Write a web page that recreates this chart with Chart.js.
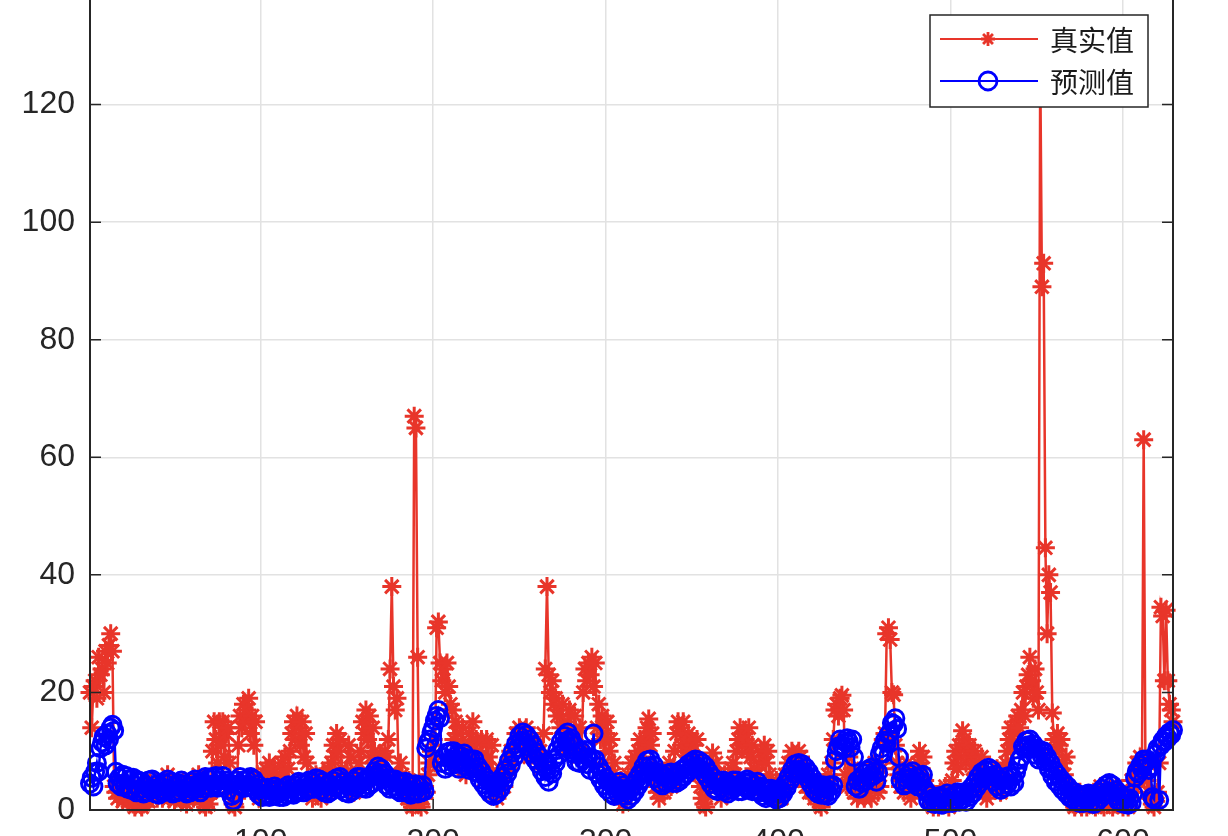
<!DOCTYPE html>
<html>
<head>
<meta charset="utf-8">
<script src="https://cdn.jsdelivr.net/npm/chart.js@4/dist/chart.umd.min.js"></script>
<style>
    html, body { margin: 0; padding: 0; background: #fff; overflow: hidden; width: 1228px; height: 836px; }
    /* el recorte: el área de trazado empieza por encima del borde superior */
    #wrap { position: absolute; left: 0; top: -60px; width: 1228px; height: 960px; }
</style>
</head>
<body>
<div id="wrap"><canvas id="chart"></canvas></div>
<script>
// Ejes
const xMin = 1, xMax = 629;
const xTicks = [100, 200, 300, 400, 500, 600];
const yTicks = [0, 20, 40, 60, 80, 100, 120, 140];

// Leyenda
const seriesNames = ['真实值', '预测值'];

// Serie real (muestras 1..629)
const trueValues = [
    20, 14, 21, 22, 19, 26, 23, 24, 20, 27,
    25, 28, 30, 27, 4, 3, 2, 4, 2.5, 1.5,
    2, 3, 1.5, 4, 2, 1, 0.5, 2, 3, 1,
    0.5, 1, 2, 3, 1.5, 4, 2, 3, 5, 2,
    3, 4, 2, 5, 3, 6, 2, 4, 3, 1.5,
    2, 3, 4, 2, 5, 3, 1, 2, 4, 3,
    2, 5, 3, 6, 2, 4, 1, 0.5, 2, 1,
    3, 10, 15, 12, 8, 15, 11, 15, 9, 13,
    14, 8, 3, 1, 0.5, 2, 11, 16, 14, 18,
    15, 17, 19, 13, 16, 11, 15, 6, 2, 4,
    3, 5, 7, 4, 8, 6, 3, 7, 5, 4,
    6, 8, 5, 9, 4, 7, 10, 13, 15, 12,
    16, 14, 11, 15, 9, 13, 8, 5, 3, 2,
    4, 6, 3, 5, 2, 6, 4, 3, 7, 5,
    8, 11, 9, 13, 10, 12, 7, 5, 4, 6,
    11, 9, 6, 3, 5, 4, 8, 10, 15, 13,
    17, 12, 16, 9, 14, 10, 8, 5, 9, 7,
    6, 10, 9, 12, 24, 38, 21, 17, 19, 5,
    8, 6, 4, 3, 2, 5, 1, 0.5, 67, 65,
    26, 1, 0.5, 2, 4, 3, 6, 8, 10, 12,
    8, 31, 32, 25, 22, 24, 20, 25, 21, 18,
    17, 12, 15, 13, 8, 10, 14, 11, 6, 9,
    13, 11, 15, 9, 12, 7, 10, 12, 5, 8,
    12, 9, 6, 11, 4, 3, 2, 5, 7, 6,
    4, 6, 8, 7, 10, 9, 11, 13, 12, 14,
    13, 12, 10, 14, 11, 9, 12, 10, 11, 9,
    8, 10, 7, 13, 24, 38, 23, 20, 22, 18,
    19, 16, 17, 14, 18, 12, 10, 15, 17, 13,
    12, 16, 11, 9, 14, 10, 20, 24, 22, 25,
    23, 26, 21, 25, 14, 18, 12, 16, 8, 13,
    15, 10, 12, 6, 8, 4, 3, 2, 5, 1,
    4, 2, 6, 3, 8, 5, 9, 7, 10, 12,
    9, 11, 12, 14, 15.5, 11, 13, 6, 4, 3,
    2, 4, 6, 3, 5, 7, 8, 4, 6, 10,
    13, 15, 14, 11, 15, 12, 10, 13, 9, 12,
    11, 8, 12, 6, 4, 2, 1, 0.5, 3, 5,
    7, 9.7, 6, 8, 4, 5, 2, 3, 6, 4,
    3, 5, 7, 8, 6, 10, 12, 14, 11, 13,
    12, 10, 14, 9, 11, 7, 4, 6, 8, 10,
    9, 11, 8, 10, 6, 4, 2, 3, 5, 4,
    3, 2, 4, 6, 5, 8, 7, 10, 9, 6,
    8, 10, 9, 7, 5, 4, 6, 3, 5, 4,
    2, 3, 5, 1, 0.5, 2, 4, 3, 6, 5,
    8, 12, 17, 18, 16, 19, 19.5, 17, 6, 4,
    9, 5, 7, 3, 6, 2, 4, 5, 3, 2,
    3, 5, 4, 2, 6, 8, 5, 3, 4, 7,
    12, 13, 30, 31, 29, 20, 19.6, 11, 8, 6,
    4, 5, 3, 6, 8, 4, 2, 5, 3, 6,
    8, 10, 7, 9, 5, 4, 3, 2, 1, 0.5,
    1, 2, 0.5, 3, 1.5, 2, 4, 1, 0.5, 2,
    5, 8, 10, 7, 11, 9, 13.5, 12, 8, 10,
    11, 9, 7, 10, 8, 5, 6, 9, 3, 4,
    2, 4, 3, 5, 6, 4, 7, 5, 3, 6,
    5, 8, 10, 12, 14, 11, 13, 15, 16, 14,
    17, 20, 16, 21, 23, 26, 22, 19, 24, 20,
    17, 128, 89, 93, 44.6, 30, 40, 37, 16.5, 12,
    10, 13, 11, 12, 8, 6, 9, 4, 3, 2,
    1, 0.5, 2, 1.5, 3, 0.5, 1, 2, 0.5, 1,
    2, 1, 3, 0.5, 1.5, 2, 4, 1, 0.5, 2,
    1, 3, 2, 0.5, 1, 4, 2, 1, 3, 0.5,
    1, 2, 0.5, 3, 5, 4, 6, 8, 5, 9,
    7, 63, 8, 5, 3, 2, 1, 0.5, 1.5, 3,
    8, 34.5, 33, 22, 34, 22, 18, 17, 15
];

// Serie predicha
const predValues = [
    4.5, 5.5, 4, 6.5, 8, 6.5, 10.5, 11.5, 12.5, 11,
    13, 12, 14, 14.5, 13.5, 6.5, 4.5, 5.5, 4, 6,
    4.2, 5.8, 3.6, 5.2, 3.4, 5.5, 4.2, 3, 5, 3.6,
    4.8, 2.8, 4.2, 3, 5, 3.4, 5.2, 3.6, 2.8, 4.4,
    2.6, 4, 3, 4.6, 3.2, 5.2, 3.6, 4.8, 2.8, 4,
    3, 4.6, 3.2, 5, 3.6, 4.4, 2.8, 4, 3, 4.8,
    3.4, 5.2, 3.6, 4.6, 3, 4.8, 3.6, 5.6, 4.2, 5.4,
    3.8, 5.6, 4.4, 5.8, 3.8, 5, 4, 5.8, 4.2, 5,
    3.4, 4.6, 2.4, 1.6, 2.8, 5, 4.2, 5.6, 4, 5,
    3.8, 5.2, 4, 5.6, 4, 5.2, 3.4, 4.4, 2.6, 3.6,
    2.2, 3.6, 2.6, 3.8, 2.2, 3.4, 2.4, 4, 2.6, 3.6,
    2.2, 3.2, 2.2, 3.8, 2.6, 4.2, 2.8, 3.8, 2.6, 4.2,
    3, 4.8, 3.4, 4.6, 3, 4.4, 3.4, 5, 3.6, 4.8,
    3.6, 5.4, 4, 5.2, 3.4, 4.8, 3, 4.2, 2.8, 4.4,
    3.2, 5, 3.8, 5.4, 4.2, 5.6, 3.6, 4.8, 3, 4.2,
    2.8, 4.4, 3.2, 5, 3.8, 5.6, 4.2, 5.6, 3.8, 5,
    3.6, 5.4, 4.2, 5.8, 4.6, 6.6, 5.8, 7.4, 6.2, 7,
    5.2, 6.2, 4.2, 5.4, 3.6, 5.2, 4, 5.2, 3.4, 4.6,
    3, 4.6, 3.4, 4.8, 3, 4.2, 2.6, 4.2, 3, 4.4,
    2.8, 4, 3, 4.2, 3.2, 10.5, 11.5, 12, 13.2, 14,
    15.2, 16, 17, 15.6, 8, 9, 7, 9.8, 7.6, 10,
    8.6, 10, 7.8, 9.4, 7, 9.2, 8, 9.6, 7.4, 8.8,
    6.8, 8.6, 7.2, 8.6, 6.4, 7.4, 5.2, 6.6, 4.4, 5.6,
    3.6, 5, 2.8, 4.4, 2.4, 4, 2.8, 4.8, 3.6, 5.6,
    4.8, 6.8, 6.2, 8.4, 7.6, 9.8, 9, 11.2, 10.6, 12.6,
    11.8, 13.2, 11.6, 12.8, 10.8, 12, 9.6, 11, 8.6, 9.8,
    7.8, 9, 6.6, 8, 5.6, 6.8, 4.8, 6.8, 6.2, 8.6,
    8, 10.2, 9.4, 11.6, 10.8, 12.6, 11.6, 13.2, 11.8, 12.2,
    9.6, 11, 8.2, 9.6, 8, 10, 8.6, 10.2, 7.8, 9,
    6.8, 8.8, 13, 8.6, 6.2, 7.4, 5.2, 6.4, 4.2, 5.4,
    3.4, 4.8, 2.8, 4.2, 2.4, 4, 2.8, 4.8, 3, 4.2,
    2.4, 3.6, 1.8, 3.4, 2.4, 4.2, 3.2, 5.2, 4.2, 6.2,
    5.2, 7.4, 6.6, 8.4, 7.4, 8.6, 6.6, 7.6, 5.4, 6.4,
    4.6, 6, 4.2, 5.8, 4.6, 6.2, 5, 6.4, 4.6, 5.8,
    4.6, 6.2, 5, 6.8, 5.6, 7.2, 6.2, 7.8, 6.8, 8.2,
    7.2, 8.6, 7.4, 8.4, 7, 8, 6.2, 7.4, 5.4, 6.4,
    4.4, 5.6, 3.6, 4.8, 3.2, 4.8, 3.8, 5, 3.2, 4.4,
    2.8, 4.4, 3.4, 5, 3.8, 5, 3.2, 4.4, 3.2, 4.8,
    3.8, 5.2, 3.6, 4.8, 3.2, 4.2, 3.2, 4.8, 3, 4,
    2.4, 3.6, 2, 3.6, 2.6, 3.6, 2.2, 3.2, 1.8, 2.8,
    2, 3.4, 2.8, 4.4, 3.8, 5.6, 5, 6.8, 6.2, 7.8,
    6.8, 8, 6.4, 7.8, 6.4, 7.2, 5.4, 6.4, 4.4, 5.4,
    3.4, 4.4, 2.8, 3.8, 2.6, 4.2, 2.6, 3.6, 2.4, 4.2,
    3.2, 4.2, 8.5, 10, 10.8, 12, 11, 10.4, 11.5, 12.2,
    11.6, 10.6, 12, 9, 4, 5, 3.6, 5.4, 4.6, 6.2,
    5, 6.8, 5.8, 7.2, 5.8, 6.6, 4.8, 6.4, 9.5, 10.5,
    9.6, 11.8, 11.4, 12.8, 13.2, 14.8, 14.6, 15.6, 13.8, 9,
    5, 6.2, 4.2, 5.4, 4.4, 6.2, 5.4, 6.6, 4.6, 5.6,
    4, 5.8, 4.8, 6, 3.6, 3, 1.6, 2.6, 1.2, 2,
    1, 2.2, 1.2, 2.4, 0.9, 2.2, 1.4, 2.8, 1.2, 2.2,
    1.2, 2.6, 1.6, 3, 1.4, 2.8, 1.8, 3, 1.4, 3,
    2.2, 3.8, 2.8, 4.6, 3.8, 5.6, 4.6, 6.4, 5.4, 6.8,
    5.6, 7.2, 5.8, 6.8, 4.8, 6, 4, 5.2, 3.4, 5,
    3.8, 5.6, 4.4, 5.8, 4, 5.6, 4.6, 6.4, 7.5, 8.5,
    9, 10.8, 10.4, 11.8, 11, 12, 10.4, 11.2, 9.4, 10.4,
    8.6, 10.2, 9.2, 10, 8.2, 9, 7, 8, 5.8, 6.8,
    4.8, 6, 4.2, 5.2, 3.4, 4.6, 2.8, 4, 2.2, 3.2,
    1.8, 3, 1.4, 2.6, 1.2, 2.4, 1.2, 2.6, 1.6, 2.8,
    1.2, 2.4, 1, 2.4, 1.4, 3, 2, 3.6, 2.6, 4.2,
    3, 4.6, 3, 4.2, 2.4, 3.4, 1.6, 2.8, 1.2, 2.2,
    1, 2, 0.9, 2, 1.2, 2.8, 5.5, 6.6, 6.2, 7.6,
    7, 8.6, 8, 8.6, 6.8, 7.4, 2.2, 1.8, 9.5, 10.5,
    1.7, 11, 11.8, 11.6, 12.6, 12.2, 13.2, 12.8, 13.6
];

const RED = '#e8352a';
const BLUE = '#0000ff';
const AXIS = '#262626';
const FONT = '"Liberation Sans", Arial, sans-serif';

const toPoints = arr => arr.map((v, i) => ({ x: i + 1, y: v }));

// Asterisco tipo MATLAB
function drawStar(ctx, x, y, r) {
    const d = r * Math.SQRT1_2;
    ctx.beginPath();
    ctx.moveTo(x - r, y); ctx.lineTo(x + r, y);
    ctx.moveTo(x, y - r); ctx.lineTo(x, y + r);
    ctx.moveTo(x - d, y - d); ctx.lineTo(x + d, y + d);
    ctx.moveTo(x - d, y + d); ctx.lineTo(x + d, y - d);
    ctx.stroke();
}

// Marco, ticks hacia dentro y leyenda dentro del área
const framePlugin = {
    id: 'frame',
    afterDatasetsDraw(chart) {
        const { ctx, chartArea: a, scales: { x, y } } = chart;
        ctx.save();
        ctx.strokeStyle = AXIS;
        ctx.lineWidth = 2;
        ctx.strokeRect(a.left, a.top, a.right - a.left, a.bottom - a.top);

        ctx.lineWidth = 1.5;
        ctx.beginPath();
        xTicks.forEach(v => {
            const px = x.getPixelForValue(v);
            ctx.moveTo(px, a.bottom); ctx.lineTo(px, a.bottom - 11);
            ctx.moveTo(px, a.top); ctx.lineTo(px, a.top + 11);
        });
        yTicks.forEach(v => {
            const py = y.getPixelForValue(v);
            ctx.moveTo(a.left, py); ctx.lineTo(a.left + 11, py);
            ctx.moveTo(a.right, py); ctx.lineTo(a.right - 11, py);
        });
        ctx.stroke();

        // leyenda
        const w = 218, h = 92;
        const lx = a.right - 25 - w, ly = a.top + 28;
        ctx.fillStyle = '#fff';
        ctx.fillRect(lx, ly, w, h);
        ctx.lineWidth = 1.5;
        ctx.strokeStyle = AXIS;
        ctx.strokeRect(lx, ly, w, h);

        const rows = [
            { color: RED, y: ly + 24, marker: 'star' },
            { color: BLUE, y: ly + 66, marker: 'circle' }
        ];
        rows.forEach((r, i) => {
            ctx.strokeStyle = r.color;
            ctx.lineWidth = 2.2;
            ctx.beginPath();
            ctx.moveTo(lx + 10, r.y); ctx.lineTo(lx + 108, r.y);
            ctx.stroke();
            ctx.lineWidth = 2.8;
            if (r.marker === 'star') {
                drawStar(ctx, lx + 58, r.y, 7);
            } else {
                ctx.beginPath();
                ctx.arc(lx + 58, r.y, 9, 0, Math.PI * 2);
                ctx.stroke();
            }
            ctx.fillStyle = '#1a1a1a';
            ctx.font = '28px "Noto Sans CJK SC", sans-serif';
            ctx.textBaseline = 'middle';
            ctx.textAlign = 'left';
            ctx.fillText(seriesNames[i], lx + 120, r.y + 1);
        });
        ctx.restore();
    }
};

new Chart(document.getElementById('chart'), {
    type: 'line',
    data: {
        datasets: [
            {
                label: seriesNames[1], data: toPoints(predValues), order: 0,
                borderColor: BLUE, borderWidth: 2.5,
                pointStyle: 'circle', pointRadius: 8.5, pointBorderWidth: 3,
                pointBorderColor: BLUE, pointBackgroundColor: 'rgba(0,0,0,0)',
                clip: false
            },
            {
                label: seriesNames[0], data: toPoints(trueValues), order: 1,
                borderColor: RED, borderWidth: 2.5,
                pointStyle: 'star', pointRadius: 9.5, pointBorderWidth: 3,
                pointBorderColor: RED, pointBackgroundColor: RED,
                clip: false
            }
        ]
    },
    options: {
        responsive: true, maintainAspectRatio: false, animation: false,
        layout: { padding: { left: 0, right: 55, top: 47, bottom: 0 } },
        plugins: { legend: { display: false }, tooltip: { enabled: false } },
        elements: { line: { tension: 0 } },
        scales: {
            x: {
                type: 'linear', min: xMin, max: xMax,
                afterBuildTicks: s => { s.ticks = xTicks.map(v => ({ value: v })); },
                afterFit: s => { s.height = 90; },
                grid: { color: '#e2e2e2', lineWidth: 1.5, drawTicks: false },
                border: { display: false },
                ticks: { color: AXIS, padding: 13, maxRotation: 0, font: { family: FONT, size: 32 } }
            },
            y: {
                min: yTicks[0], max: yTicks[yTicks.length - 1],
                afterBuildTicks: s => { s.ticks = yTicks.map(v => ({ value: v })); },
                afterFit: s => { s.width = 90; },
                grid: { color: '#e2e2e2', lineWidth: 1.5, drawTicks: false },
                border: { display: false },
                ticks: { color: AXIS, padding: 15, font: { family: FONT, size: 32 } }
            }
        }
    },
    plugins: [framePlugin]
});
</script>
</body>
</html>
